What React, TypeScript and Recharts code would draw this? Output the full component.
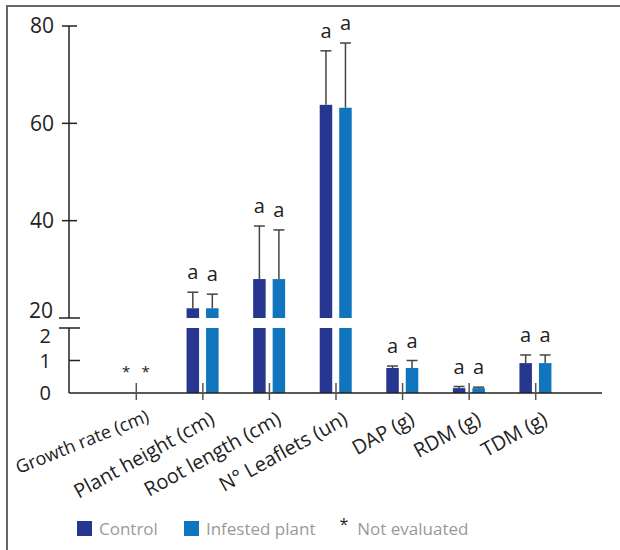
import React from 'react';
import { BarChart, Bar, XAxis, YAxis } from 'recharts';

const FONT = "'Open Sans', 'DejaVu Sans', sans-serif";

const categories = ['Growth rate (cm)', 'Plant height (cm)', 'Root length (cm)', 'N° Leaflets (un)', 'DAP (g)', 'RDM (g)', 'TDM (g)'];
const controlMean: (number | null)[] = [null, 22, 28, 63.8, 0.77, 0.15, 0.92];
const infestedMean: (number | null)[] = [null, 22, 28, 63.2, 0.77, 0.15, 0.92];
const controlErr: (number | null)[] = [null, 3.3, 10.9, 11.1, 0.06, 0.05, 0.25];
const infestedErr: (number | null)[] = [null, 2.9, 10.1, 13.3, 0.23, 0.03, 0.25];
const controlLetter = ['*', 'a', 'a', 'a', 'a', 'a', 'a'];
const infestedLetter = ['*', 'a', 'a', 'a', 'a', 'a', 'a'];
const upperTicks = [20, 40, 60, 80];
const lowerTicks = [0, 1, 2];

const CONTROL = '#27368f';
const INFESTED = '#1075bd';

const UPPER_MIN = 20;
const UPPER_MAX = 80;
const LOWER_MIN = 0;
const LOWER_MAX = 2;

const upperData = categories.map((name, i) => ({
  name,
  control: controlMean[i] != null && (controlMean[i] as number) >= UPPER_MIN ? controlMean[i] : null,
  infested: infestedMean[i] != null && (infestedMean[i] as number) >= UPPER_MIN ? infestedMean[i] : null,
  cErr: controlErr[i],
  iErr: infestedErr[i],
  cLet: controlLetter[i],
  iLet: infestedLetter[i],
}));

const lowerData = categories.map((name, i) => ({
  name,
  control: controlMean[i] ?? 0,
  infested: infestedMean[i] ?? 0,
  cErr: controlErr[i],
  iErr: infestedErr[i],
  cLet: controlLetter[i],
  iLet: infestedLetter[i],
}));

function makeShape(valueKey: string, errKey: string, letKey: string, lo: number, hi: number) {
  return (props: any) => {
    const { x, y, width, height, fill, payload } = props;
    const v = payload[valueKey];
    if (v == null || v < lo) return <g />;
    const letter = payload[letKey];
    const cx = x + width / 2;
    if (letter === '*') {
      return (
        <g>
          <text x={cx} y={y - 16} textAnchor="middle" fontSize={15} fill="#222" fontFamily={FONT}>*</text>
        </g>
      );
    }
    const rect = height > 0 ? <rect x={x} y={y} width={width} height={height} fill={fill} /> : null;
    if (v > hi) return <g>{rect}</g>;
    const ppu = v - lo > 0 ? height / (v - lo) : 0;
    const err = payload[errKey] ?? 0;
    const top = y - err * ppu;
    return (
      <g>
        {rect}
        <line x1={cx} x2={cx} y1={y} y2={top} stroke="#444" strokeWidth={1.5} />
        <line x1={cx - 5.5} x2={cx + 5.5} y1={top} y2={top} stroke="#444" strokeWidth={1.5} />
        <text x={cx} y={top - 13} textAnchor="middle" fontSize={20} fill="#222" fontFamily={FONT}>{letter}</text>
      </g>
    );
  };
}

const UpperTick = (props: any) => {
  const { x, y, payload } = props;
  const v = payload.value;
  if (v === UPPER_MIN) {
    return (
      <g>
        <line x1={x - 10} x2={x + 11} y1={y} y2={y} stroke="#222" strokeWidth={1.5} />
        <text x={x - 16} y={y} textAnchor="end" fontSize={21} fill="#222" fontFamily={FONT}>{v}</text>
      </g>
    );
  }
  return (
    <g>
      <line x1={x - 7} x2={x + 8} y1={y} y2={y} stroke="#222" strokeWidth={1.5} />
      <text x={x - 15} y={y} dy="0.35em" textAnchor="end" fontSize={21} fill="#222" fontFamily={FONT}>{v}</text>
    </g>
  );
};

const LowerTick = (props: any) => {
  const { x, y, payload } = props;
  const v = payload.value;
  if (v === LOWER_MAX) {
    return (
      <g>
        <line x1={x - 10} x2={x + 11} y1={y} y2={y} stroke="#222" strokeWidth={1.5} />
        <text x={x - 18} y={y + 8} dy="0.35em" textAnchor="end" fontSize={20} fill="#222" fontFamily={FONT}>{v}</text>
      </g>
    );
  }
  return (
    <g>
      {v !== LOWER_MIN && <line x1={x} x2={x + 11} y1={y} y2={y} stroke="#222" strokeWidth={1.5} />}
      <text x={x - 18} y={y} dy="0.35em" textAnchor="end" fontSize={20} fill="#222" fontFamily={FONT}>{v}</text>
    </g>
  );
};

const XTick = (props: any) => {
  const { x, y, payload } = props;
  const small = payload.value === categories[0];
  return (
    <g>
      <line x1={x} x2={x} y1={y - 10} y2={y + 7} stroke="#555" strokeWidth={1.5} />
      <text
        transform={small ? `translate(${x + 14},${y + 28}) rotate(-22)` : `translate(${x + 13},${y + 30}) rotate(-29)`}
        textAnchor="end"
        fontSize={small ? 18 : 20}
        fill="#222"
        fontFamily={FONT}
      >
        {payload.value}
      </text>
    </g>
  );
};

const LegendItem = ({ color, label, star, gap }: { color?: string; label: string; star?: boolean; gap: number }) => (
  <div style={{ display: 'flex', alignItems: 'center', marginRight: gap }}>
    {star ? (
      <span style={{ color: '#222', fontSize: 16, marginRight: 9, position: 'relative', top: -4 }}>*</span>
    ) : (
      <span style={{ display: 'inline-block', width: 15, height: 15, background: color, marginRight: 7 }} />
    )}
    <span style={{ color: '#9a9a9a', fontSize: 17 }}>{label}</span>
  </div>
);

export default function App() {
  return (
    <div style={{ position: 'absolute', left: 0, top: 0, width: 620, height: 550, background: '#fff', fontFamily: FONT, overflow: 'hidden' }}>
      <div style={{ position: 'absolute', left: 6, top: 5, width: 614, height: 545, borderTop: '2px solid #666', borderLeft: '2px solid #666', boxSizing: 'border-box' }} />
      <div style={{ position: 'absolute', left: 0, top: 0 }}>
        <BarChart width={620} height={330} data={upperData} margin={{ top: 26, right: 18, bottom: 12, left: 0 }} barGap={7} barSize={12.5}>
          <XAxis dataKey="name" hide padding={{ left: 34, right: 33 }} />
          <YAxis
            width={69}
            domain={[UPPER_MIN, UPPER_MAX]}
            ticks={upperTicks}
            tick={<UpperTick />}
            tickSize={0}
            tickMargin={0}
            tickLine={false}
            axisLine={{ stroke: '#222', strokeWidth: 1.5 }}
            interval={0}
          />
          <Bar dataKey="control" fill={CONTROL} isAnimationActive={false} shape={makeShape('control', 'cErr', 'cLet', UPPER_MIN, UPPER_MAX)} />
          <Bar dataKey="infested" fill={INFESTED} isAnimationActive={false} shape={makeShape('infested', 'iErr', 'iLet', UPPER_MIN, UPPER_MAX)} />
        </BarChart>
      </div>
      <div style={{ position: 'absolute', left: 0, top: 0 }}>
        <BarChart width={620} height={550} data={lowerData} margin={{ top: 328, right: 18, bottom: 127, left: 0 }} barGap={7} barSize={12.5}>
          <XAxis
            dataKey="name"
            height={30}
            padding={{ left: 34, right: 33 }}
            tick={<XTick />}
            tickSize={0}
            tickMargin={0}
            tickLine={false}
            interval={0}
            axisLine={{ stroke: '#222', strokeWidth: 1.5 }}
          />
          <YAxis
            width={69}
            domain={[LOWER_MIN, LOWER_MAX]}
            ticks={lowerTicks}
            allowDataOverflow
            tick={<LowerTick />}
            tickSize={0}
            tickMargin={0}
            tickLine={false}
            axisLine={{ stroke: '#222', strokeWidth: 1.5 }}
            interval={0}
          />
          <Bar dataKey="control" fill={CONTROL} isAnimationActive={false} shape={makeShape('control', 'cErr', 'cLet', LOWER_MIN, LOWER_MAX)} />
          <Bar dataKey="infested" fill={INFESTED} isAnimationActive={false} shape={makeShape('infested', 'iErr', 'iLet', LOWER_MIN, LOWER_MAX)} />
        </BarChart>
      </div>
      <div style={{ position: 'absolute', left: 77, top: 516, display: 'flex', alignItems: 'center', height: 24 }}>
        <LegendItem color={CONTROL} label="Control" gap={26} />
        <LegendItem color={INFESTED} label="Infested plant" gap={24} />
        <LegendItem star label="Not evaluated" gap={0} />
      </div>
    </div>
  );
}
